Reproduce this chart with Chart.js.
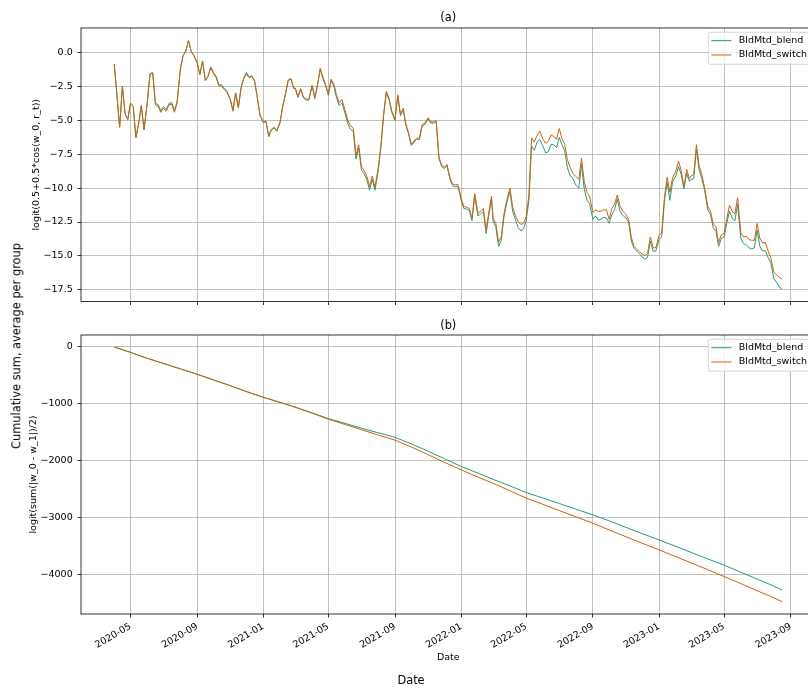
<!DOCTYPE html>
<html>
<head>
<meta charset="utf-8">
<title>BldMtd comparison</title>
<script src="https://cdn.jsdelivr.net/npm/chart.js@4.4.1/dist/chart.umd.min.js"></script>
<style>
  html, body { margin: 0; padding: 0; background: #fff; width: 808px; height: 692px; overflow: hidden; }
  #fig { position: relative; width: 808px; height: 692px; overflow: hidden; font-family: "DejaVu Sans", sans-serif; }
  #panelA { position: absolute; left: 0; top: 0; }
  #panelB { position: absolute; left: 0; top: 310px; }
  .suplabel { position: absolute; font-size: 11.4px; line-height: 1; color: #000; white-space: nowrap; }
  #supY { left: 17px; top: 346px; transform: translate(-50%, -50%) rotate(-90deg); }
  #supX { left: 411px; top: 681px; transform: translate(-50%, -50%); }
</style>
</head>
<body>
<div id="fig">
  <canvas id="panelA" width="830" height="312"></canvas>
  <canvas id="panelB" width="830" height="382"></canvas>
  <div id="supY" class="suplabel">Cumulative sum, average per group</div>
  <div id="supX" class="suplabel">Date</div>
</div>
<script>
// ---- data -------------------------------------------------------------
const seriesNames = ['BldMtd_blend', 'BldMtd_switch'];

const xTickDates = ['2020-05-01','2020-09-01','2021-01-01','2021-05-01','2021-09-01','2022-01-01',
                    '2022-05-01','2022-09-01','2023-01-01','2023-05-01','2023-09-01'];
const xTickLabels = ['2020-05','2020-09','2021-01','2021-05','2021-09','2022-01',
                     '2022-05','2022-09','2023-01','2023-05','2023-09'];
const logitTicks = [0, -2.5, -5, -7.5, -10, -12.5, -15, -17.5];
const cumTicks = [0, -1000, -2000, -3000, -4000];

// panel (a): logit of the cosine similarity
const logitDates = [
  '2020-04-01','2020-04-06','2020-04-11','2020-04-16','2020-04-21','2020-04-26',
  '2020-05-01','2020-05-06','2020-05-11','2020-05-16','2020-05-21','2020-05-26',
  '2020-06-01','2020-06-06','2020-06-11','2020-06-16','2020-06-21','2020-06-26',
  '2020-07-01','2020-07-06','2020-07-11','2020-07-16','2020-07-21','2020-07-26',
  '2020-08-01','2020-08-06','2020-08-11','2020-08-16','2020-08-21','2020-08-26',
  '2020-09-01','2020-09-06','2020-09-11','2020-09-16','2020-09-21','2020-09-26',
  '2020-10-01','2020-10-06','2020-10-11','2020-10-16','2020-10-21','2020-10-26',
  '2020-11-01','2020-11-06','2020-11-11','2020-11-16','2020-11-21','2020-11-26',
  '2020-12-01','2020-12-06','2020-12-11','2020-12-16','2020-12-21','2020-12-26',
  '2021-01-01','2021-01-06','2021-01-11','2021-01-16','2021-01-21','2021-01-26',
  '2021-02-01','2021-02-06','2021-02-11','2021-02-16','2021-02-21','2021-02-26',
  '2021-03-01','2021-03-06','2021-03-11','2021-03-16','2021-03-21','2021-03-26',
  '2021-04-01','2021-04-06','2021-04-11','2021-04-16','2021-04-21','2021-04-26',
  '2021-05-01','2021-05-06','2021-05-11','2021-05-16','2021-05-21','2021-05-26',
  '2021-06-01','2021-06-06','2021-06-11','2021-06-16','2021-06-21','2021-06-26',
  '2021-07-01','2021-07-06','2021-07-11','2021-07-16','2021-07-21','2021-07-26',
  '2021-08-01','2021-08-06','2021-08-11','2021-08-16','2021-08-21','2021-08-26',
  '2021-09-01','2021-09-06','2021-09-11','2021-09-16','2021-09-21','2021-09-26',
  '2021-10-01','2021-10-06','2021-10-11','2021-10-16','2021-10-21','2021-10-26',
  '2021-11-01','2021-11-06','2021-11-11','2021-11-16','2021-11-21','2021-11-26',
  '2021-12-01','2021-12-06','2021-12-11','2021-12-16','2021-12-21','2021-12-26',
  '2022-01-01','2022-01-06','2022-01-11','2022-01-16','2022-01-21','2022-01-26',
  '2022-02-01','2022-02-06','2022-02-11','2022-02-16','2022-02-21','2022-02-26',
  '2022-03-01','2022-03-06','2022-03-11','2022-03-16','2022-03-21','2022-03-26',
  '2022-04-01','2022-04-06','2022-04-11','2022-04-16','2022-04-21','2022-04-26',
  '2022-05-01','2022-05-06','2022-05-11','2022-05-16','2022-05-21','2022-05-26',
  '2022-06-01','2022-06-06','2022-06-11','2022-06-16','2022-06-21','2022-06-26',
  '2022-07-01','2022-07-06','2022-07-11','2022-07-16','2022-07-21','2022-07-26',
  '2022-08-01','2022-08-06','2022-08-11','2022-08-16','2022-08-21','2022-08-26',
  '2022-09-01','2022-09-06','2022-09-11','2022-09-16','2022-09-21','2022-09-26',
  '2022-10-01','2022-10-06','2022-10-11','2022-10-16','2022-10-21','2022-10-26',
  '2022-11-01','2022-11-06','2022-11-11','2022-11-16','2022-11-21','2022-11-26',
  '2022-12-01','2022-12-06','2022-12-11','2022-12-16','2022-12-21','2022-12-26',
  '2023-01-01','2023-01-06','2023-01-11','2023-01-16','2023-01-21','2023-01-26',
  '2023-02-01','2023-02-06','2023-02-11','2023-02-16','2023-02-21','2023-02-26',
  '2023-03-01','2023-03-06','2023-03-11','2023-03-16','2023-03-21','2023-03-26',
  '2023-04-01','2023-04-06','2023-04-11','2023-04-16','2023-04-21','2023-04-26',
  '2023-05-01','2023-05-06','2023-05-11','2023-05-16','2023-05-21','2023-05-26',
  '2023-06-01','2023-06-06','2023-06-11','2023-06-16','2023-06-21','2023-06-26',
  '2023-07-01','2023-07-06','2023-07-11','2023-07-16','2023-07-21','2023-07-26',
  '2023-08-01','2023-08-06','2023-08-11','2023-08-16'
];

const logitBlend = [
  -0.82, -3.15, -5.5, -2.47, -4.5, -4.93,
  -3.72, -3.95, -6.26, -5.25, -3.89, -5.7,
  -3.67, -1.55, -1.48, -3.72, -3.84, -4.28,
  -3.98, -4.2, -3.73, -3.68, -4.28, -3.6,
  -1.2, -0.22, 0.1, 0.9, 0.08, -0.2,
  -0.75, -1.62, -0.62, -2.05, -1.75, -1.05,
  -1.45, -1.74, -2.35, -2.37, -2.62, -2.85,
  -3.4, -4.25, -2.95, -4.05, -2.55, -1.85,
  -1.45, -1.8, -1.7, -2.1, -3.35, -4.65,
  -5.15, -5.1, -6.2, -5.7, -5.55, -5.8,
  -5.15, -3.95, -3.05, -2.05, -1.95, -2.65,
  -2.65, -3.3, -2.7, -3.33, -3.5, -3.5,
  -2.45, -3.38, -2.42, -1.22, -1.9, -2.45,
  -3.15, -2.05, -2.45, -3.3, -3.9, -3.7,
  -4.5, -5.25, -5.65, -5.8, -7.85, -7.05,
  -8.65, -8.95, -9.35, -10.15, -9.35, -10.15,
  -8.7, -6.95, -4.6, -2.95, -3.48, -4.4,
  -5.0, -3.2, -4.65, -4.2, -5.35, -6.0,
  -6.85, -6.6, -6.4, -6.4, -5.4, -5.3,
  -4.9, -5.2, -5.2, -5.1, -7.8, -8.4,
  -8.55, -8.35, -9.3, -9.8, -9.9, -9.85,
  -10.9, -11.5, -11.55, -11.65, -12.4, -10.6,
  -12.05, -11.9, -11.7, -13.35, -12.0, -10.8,
  -12.45, -12.85, -14.3, -13.85, -12.1, -11.1,
  -10.25, -11.7, -12.3, -12.9, -13.15, -13.0,
  -12.4, -10.9, -6.9, -7.2, -6.6, -6.4,
  -6.9, -7.4, -7.3, -6.75, -6.8, -7.0,
  -6.25, -6.8, -7.25, -8.5, -9.05, -9.3,
  -9.8, -10.0, -8.25, -10.05, -10.9, -11.15,
  -12.3, -12.05, -12.35, -12.3, -12.15, -12.2,
  -12.6, -11.95, -11.6, -10.8, -11.7, -12.0,
  -12.2, -12.5, -13.9, -14.45, -14.65, -14.85,
  -15.1, -15.25, -15.1, -13.9, -14.65, -14.65,
  -13.8, -13.6, -10.95, -9.55, -10.9, -9.55,
  -9.1, -8.4, -9.0, -10.05, -8.9, -9.5,
  -9.35, -9.3, -7.15, -8.65, -9.3, -10.1,
  -11.6, -11.95, -12.9, -13.2, -14.3, -13.7,
  -13.6, -12.6, -11.7, -12.2, -12.4, -11.2,
  -13.7, -14.1, -14.2, -14.4, -14.5, -14.4,
  -13.1, -14.3, -14.65, -14.6, -15.1, -15.5,
  -16.7, -16.95, -17.3, -17.46
];

const logitSwitch = [
  -0.82, -3.15, -5.5, -2.47, -4.5, -4.93,
  -3.72, -3.95, -6.26, -5.25, -3.89, -5.7,
  -3.67, -1.55, -1.48, -3.85, -3.96, -4.4,
  -4.1, -4.32, -3.85, -3.8, -4.4, -3.7,
  -1.2, -0.2, 0.12, 0.92, 0.1, -0.2,
  -0.75, -1.6, -0.6, -2.05, -1.79, -1.1,
  -1.55, -1.84, -2.45, -2.47, -2.72, -2.95,
  -3.45, -4.32, -3.0, -4.08, -2.6, -1.9,
  -1.6, -1.85, -1.75, -2.1, -3.3, -4.6,
  -5.1, -5.05, -6.14, -5.65, -5.5, -5.75,
  -5.1, -3.9, -3.0, -2.0, -1.9, -2.6,
  -2.6, -3.24, -2.65, -3.27, -3.42, -3.42,
  -2.4, -3.3, -2.35, -1.15, -1.8, -2.35,
  -3.05, -1.95, -2.3, -3.1, -3.7, -3.45,
  -4.25, -5.0, -5.4, -5.55, -7.6, -6.8,
  -8.4, -8.7, -9.1, -9.9, -9.1, -9.95,
  -8.5, -6.8, -4.5, -2.85, -3.38, -4.3,
  -4.9, -3.1, -4.55, -4.1, -5.25, -5.9,
  -6.75, -6.5, -6.3, -6.3, -5.3, -5.2,
  -4.8, -5.1, -5.1, -5.0, -7.7, -8.3,
  -8.45, -8.25, -9.18, -9.68, -9.76, -9.71,
  -10.75, -11.36, -11.4, -11.5, -12.2, -10.4,
  -11.85, -11.7, -11.5, -13.1, -11.8, -10.6,
  -12.25, -12.6, -14.0, -13.6, -11.9, -10.9,
  -10.0, -11.4, -12.0, -12.44, -12.68, -12.6,
  -12.1, -10.5, -6.3, -6.6, -6.1, -5.8,
  -6.4, -6.7, -6.5, -6.05, -6.2, -6.4,
  -5.6, -6.35, -6.77, -7.9, -8.45, -8.9,
  -9.15, -9.35, -7.8, -9.5, -10.3, -10.6,
  -11.8, -11.6, -11.72, -11.7, -11.6, -11.6,
  -12.3, -11.5, -11.2, -10.5, -11.3, -11.7,
  -11.95, -12.3, -13.65, -14.3, -14.5, -14.7,
  -14.86, -14.98, -14.8, -13.6, -14.4, -14.4,
  -13.5, -13.3, -10.7, -9.2, -10.3, -9.25,
  -8.75, -8.0, -8.7, -9.9, -8.6, -9.3,
  -9.1, -9.0, -6.8, -8.3, -9.0, -9.95,
  -11.35, -11.7, -12.65, -12.85, -14.0, -13.45,
  -13.35, -12.3, -11.25, -11.7, -11.9, -10.7,
  -13.3, -13.6, -13.55, -13.8, -13.85, -13.85,
  -12.6, -13.7, -14.05, -14.0, -14.6, -15.1,
  -16.2, -16.4, -16.6, -16.72
];

// panel (b): cumulative sum of the logit distance
const cumDates = [
  '2020-04-01','2020-05-01','2020-06-01','2020-07-01','2020-08-01','2020-09-01',
  '2020-10-01','2020-11-01','2020-12-01','2021-01-01','2021-02-01','2021-03-01',
  '2021-04-01','2021-05-01','2021-06-01','2021-07-01','2021-08-01','2021-09-01',
  '2021-10-01','2021-11-01','2021-12-01','2022-01-01','2022-02-01','2022-03-01',
  '2022-04-01','2022-05-01','2022-06-01','2022-07-01','2022-08-01','2022-09-01',
  '2022-10-01','2022-11-01','2022-12-01','2023-01-01','2023-02-01','2023-03-01',
  '2023-04-01','2023-05-01','2023-06-01','2023-07-01','2023-08-01','2023-08-16'
];
const cumBlend = [
  0, -95, -200, -290, -385, -480,
  -580, -680, -785, -885, -975, -1060,
  -1160, -1260, -1345, -1430, -1510, -1590,
  -1705, -1835, -1965, -2103, -2220, -2330,
  -2445, -2562, -2660, -2755, -2855, -2955,
  -3060, -3175, -3285, -3396, -3510, -3615,
  -3730, -3840, -3965, -4085, -4210, -4277
];
const cumSwitch = [
  0, -95, -200, -290, -385, -480,
  -580, -680, -785, -885, -975, -1060,
  -1165, -1270, -1365, -1455, -1550, -1640,
  -1760, -1895, -2030, -2162, -2290, -2400,
  -2530, -2661, -2770, -2880, -2990, -3102,
  -3220, -3340, -3455, -3571, -3690, -3800,
  -3920, -4041, -4165, -4290, -4415, -4482
];

// ---- helpers ----------------------------------------------------------
const FONT = '"DejaVu Sans", sans-serif';
const BLEND = '#1b9e77';
const SWITCH = '#d95f02';
const GRID = '#b0b0b0';
const MINUS = '\u2212';

Chart.defaults.font.family = FONT;
Chart.defaults.font.size = 9.5;
Chart.defaults.color = '#000';

const ts = s => Date.parse(s.length > 10 ? s : s + 'T00:00:00Z');
const pts = (dates, vals) => dates.map((d, i) => ({ x: ts(d), y: vals[i] }));
const X_MIN = ts('2020-01-30T16:19:00Z');
const X_MAX = ts('2023-10-16T16:48:00Z');

// outer frame of the axes plus a boxed legend in the upper-right corner
const frameAndLegend = {
  id: 'frameAndLegend',
  afterDraw(chart) {
    const { ctx, chartArea: a } = chart;
    ctx.save();
    ctx.strokeStyle = '#000';
    ctx.lineWidth = 0.8;
    ctx.strokeRect(a.left, a.top, a.right - a.left, a.bottom - a.top);

    const fs = 9.5;
    ctx.font = fs + 'px ' + FONT;
    const sets = chart.data.datasets;
    const tw = Math.max(...sets.map(d => ctx.measureText(d.label).width));
    const pad = 0.4 * fs, handle = 2 * fs, gap = 0.8 * fs;
    const w = 2 * pad + handle + gap + tw, h = 32;
    const x0 = a.right - 0.5 * fs - w, y0 = a.top + 4.3;
    ctx.beginPath();
    ctx.roundRect(x0, y0, w, h, 2);
    ctx.fillStyle = 'rgba(255,255,255,0.8)';
    ctx.fill();
    ctx.strokeStyle = '#cccccc';
    ctx.lineWidth = 0.8;
    ctx.stroke();
    sets.forEach((d, i) => {
      const yy = y0 + 8.4 + i * 14.3;
      ctx.beginPath();
      ctx.moveTo(x0 + pad - 0.8, yy);
      ctx.lineTo(x0 + pad - 0.8 + handle + 1, yy);
      ctx.strokeStyle = d.borderColor;
      ctx.lineWidth = d.borderWidth;
      ctx.stroke();
      ctx.fillStyle = '#000';
      ctx.textAlign = 'left';
      ctx.textBaseline = 'middle';
      ctx.fillText(d.label, x0 + pad + handle + gap, yy);
    });
    ctx.restore();
  }
};

const gridOpts = { color: GRID, lineWidth: 0.8, drawTicks: true, tickLength: 3.5, tickColor: '#000', tickWidth: 0.8 };

function dateAxis(showLabels, height) {
  return {
    type: 'linear',
    bounds: 'data',
    min: X_MIN,
    max: X_MAX,
    afterBuildTicks: s => { s.ticks = xTickDates.map(d => ({ value: ts(d) })); },
    afterFit: s => { s.height = height; },
    ticks: {
      display: showLabels,
      autoSkip: false,
      minRotation: 30,
      maxRotation: 30,
      padding: 3.5,
      font: { size: 9.5 },
      callback: (v, i) => xTickLabels[i]
    },
    grid: gridOpts,
    border: { display: false },
    title: showLabels
      ? { display: true, text: 'Date', font: { size: 9.5 }, padding: { top: 0, bottom: 28.8 } }
      : { display: false }
  };
}

function valueAxis(min, max, ticks, fmt, label, titleOffset) {
  return {
    min, max,
    afterBuildTicks: s => { s.ticks = ticks.map(v => ({ value: v })); },
    afterFit: s => { s.width = 81; },
    ticks: { padding: 4.8, font: { size: 9.5 }, callback: v => fmt(v) },
    grid: gridOpts,
    border: { display: false },
    title: { display: true, text: label, font: { size: 9.5 }, padding: { top: titleOffset, bottom: 0 } }
  };
}

const fmtLogit = v => (v < 0 ? MINUS : '') + Math.abs(v).toFixed(1);
const fmtCum = v => (v < 0 ? MINUS : '') + Math.abs(v).toFixed(0);

function lineSets(dates, blend, sw) {
  return [
    { label: seriesNames[0], data: pts(dates, blend), borderColor: BLEND, borderWidth: 1,
      pointRadius: 0, tension: 0, fill: false, order: 1 },
    { label: seriesNames[1], data: pts(dates, sw), borderColor: SWITCH, borderWidth: 1,
      pointRadius: 0, tension: 0, fill: false, order: 0 }
  ];
}

function panelTitle(text, padTop, padBottom) {
  return { display: true, text, fullSize: false, align: 'center', color: '#000',
           font: { size: 11.4, weight: 'normal' }, padding: { top: padTop, bottom: padBottom } };
}

// ---- panel (a) --------------------------------------------------------
new Chart(document.getElementById('panelA'), {
  type: 'line',
  data: { datasets: lineSets(logitDates, logitBlend, logitSwitch) },
  options: {
    responsive: false,
    animation: false,
    events: [],
    layout: { padding: { left: 0, right: 14.5, top: 0, bottom: 0 } },
    plugins: { legend: { display: false }, tooltip: { enabled: false },
               title: panelTitle('(a)', 11.7, 2.6) },
    scales: {
      x: dateAxis(false, 5),
      y: valueAxis(-18.37, 1.83, logitTicks, fmtLogit, 'logit(0.5+0.5*cos(w_0, r_t))', 30.8)
    }
  },
  plugins: [frameAndLegend]
});

// ---- panel (b) --------------------------------------------------------
new Chart(document.getElementById('panelB'), {
  type: 'line',
  data: { datasets: lineSets(cumDates, cumBlend, cumSwitch) },
  options: {
    responsive: false,
    animation: false,
    events: [],
    layout: { padding: { left: 0, right: 14.5, top: 0, bottom: 0 } },
    plugins: { legend: { display: false }, tooltip: { enabled: false },
               title: panelTitle('(b)', 9.66, 1.66) },
    scales: {
      x: dateAxis(true, 78),
      y: valueAxis(-4700, 211, cumTicks, fmtCum, 'logit(sum(|w_0 - w_1|)/2)', 27.6)
    }
  },
  plugins: [frameAndLegend]
});
</script>
</body>
</html>
